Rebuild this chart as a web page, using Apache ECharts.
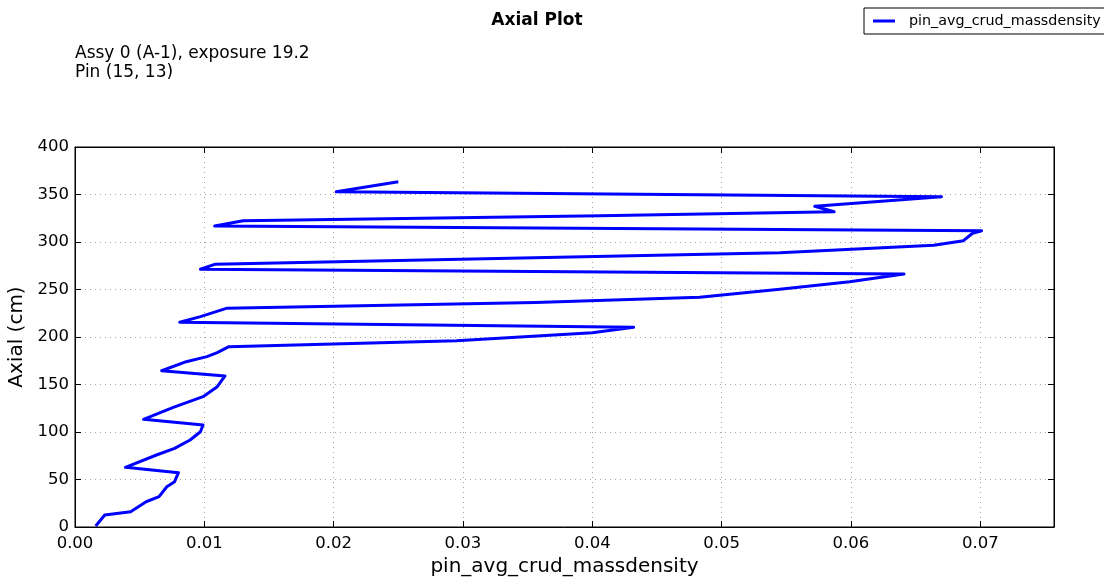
<!DOCTYPE html>
<html>
<head>
<meta charset="utf-8">
<script src="https://cdn.jsdelivr.net/npm/echarts@6/dist/echarts.min.js"></script>
<style>
  html, body { margin: 0; padding: 0; background: #fff; }
  #chart { width: 1104px; height: 580px; }
</style>
</head>
<body>
<div id="chart"></div>
<script>
// Pin-averaged crud mass density along the axial height of the pin
const massDensity = [
  0.0016, 0.0023, 0.0043, 0.0055, 0.0065, 0.0071, 0.0077, 0.0080, 0.0039, 0.0063,
  0.0077, 0.0089, 0.0097, 0.0099, 0.0053, 0.0076, 0.0099, 0.0110, 0.0116, 0.0067,
  0.0086, 0.0102, 0.0110, 0.0119, 0.0295, 0.0400, 0.0432, 0.0081, 0.0097, 0.0117,
  0.0356, 0.0483, 0.0545, 0.0599, 0.0641, 0.0097, 0.0108, 0.0545, 0.0664, 0.0687,
  0.0694, 0.0701, 0.0108, 0.0130, 0.0406, 0.0587, 0.0572, 0.0670, 0.0202, 0.0250
];
const axialCm = [
  1.0, 12.6, 16.1, 26.6, 31.9, 42.4, 47.7, 57.2, 62.8, 75.8,
  82.8, 91.6, 100.3, 107.4, 113.4, 126.0, 137.2, 147.7, 159.0, 164.5,
  174.0, 179.3, 183.5, 189.8, 196.1, 204.5, 210.2, 215.5, 221.4, 230.2,
  236.3, 241.8, 250.2, 258.2, 266.3, 271.3, 276.5, 288.7, 296.5, 301.4,
  309.2, 311.9, 316.8, 322.4, 327.7, 331.9, 337.6, 347.7, 353.0, 363.5
];
const xTicks = [0, 0.01, 0.02, 0.03, 0.04, 0.05, 0.06, 0.07];
const yTicks = [0, 50, 100, 150, 200, 250, 300, 350, 400];

const seriesName = 'pin_avg_crud_massdensity';
const xMax = 0.0757;
const FONT = 'DejaVu Sans';

const points = massDensity.map((v, i) => [v, axialCm[i]]);

const chart = echarts.init(document.getElementById('chart'), null, { renderer: 'canvas' });

const tickStyle = { show: true, inside: true, length: 6, lineStyle: { color: '#000', width: 1 } };
const gridLine = { show: true, lineStyle: { color: '#a8a8a8', type: [1, 4], width: 1 } };
const frameLine = { show: true, onZero: false, lineStyle: { color: '#000', width: 1 } };

chart.setOption({
  animation: false,
  backgroundColor: '#fff',
  textStyle: { fontFamily: FONT },
  title: [
    {
      text: 'Axial Plot',
      left: 537, top: 12, textAlign: 'center', padding: 0,
      textStyle: { fontFamily: FONT, fontSize: 17, fontWeight: 'bold', color: '#000' }
    },
    {
      text: 'Assy 0 (A-1), exposure 19.2\nPin (15, 13)',
      left: 75, top: 44, padding: 0,
      textStyle: { fontFamily: FONT, fontSize: 17, fontWeight: 'normal', color: '#000', lineHeight: 19 }
    }
  ],
  legend: {
    left: 864, top: 8,
    orient: 'vertical',
    borderColor: '#000', borderWidth: 1, borderRadius: 0,
    padding: [6, 10, 6, 9],
    itemWidth: 22, itemHeight: 3,
    textStyle: { fontFamily: FONT, fontSize: 14.3, color: '#000', padding: [0, 0, 0, 9] },
    data: [{ name: seriesName, icon: 'rect' }]
  },
  grid: {
    left: 75, top: 147, width: 979, height: 380,
    show: true, borderColor: '#000', borderWidth: 1,
    containLabel: false, outerBoundsMode: 'none'
  },
  xAxis: [
    {
      type: 'value', min: 0, max: xMax, interval: 0.01,
      name: seriesName, nameLocation: 'middle', nameGap: 30,
      nameTextStyle: { fontFamily: FONT, fontSize: 20, color: '#000' },
      axisLine: frameLine,
      axisTick: tickStyle,
      axisLabel: {
        showMaxLabel: false, margin: 8,
        fontFamily: FONT, fontSize: 16.5, color: '#000',
        formatter: v => xTicks.some(t => Math.abs(t - v) < 1e-9) ? v.toFixed(2) : ''
      },
      splitLine: gridLine
    },
    {
      type: 'value', min: 0, max: xMax, interval: 0.01, position: 'top',
      axisLine: frameLine,
      axisTick: tickStyle, axisLabel: { show: false }, splitLine: { show: false }
    }
  ],
  yAxis: [
    {
      type: 'value', min: 0, max: 400, interval: 50,
      name: 'Axial (cm)', nameLocation: 'middle', nameGap: 37,
      nameTextStyle: { fontFamily: FONT, fontSize: 20, color: '#000' },
      axisLine: frameLine,
      axisTick: tickStyle,
      axisLabel: {
        margin: 6, fontFamily: FONT, fontSize: 16.5, color: '#000',
        formatter: v => yTicks.includes(v) ? String(v) : ''
      },
      splitLine: gridLine
    },
    {
      type: 'value', min: 0, max: 400, interval: 50, position: 'right',
      axisLine: frameLine,
      axisTick: tickStyle, axisLabel: { show: false }, splitLine: { show: false }
    }
  ],
  series: [
    {
      name: seriesName,
      type: 'line',
      xAxisIndex: 0, yAxisIndex: 0,
      data: points,
      showSymbol: false, symbol: 'none',
      lineStyle: { color: '#0000ff', width: 3, join: 'round', cap: 'butt' },
      itemStyle: { color: '#0000ff' },
      clip: true
    }
  ]
});
</script>
</body>
</html>
